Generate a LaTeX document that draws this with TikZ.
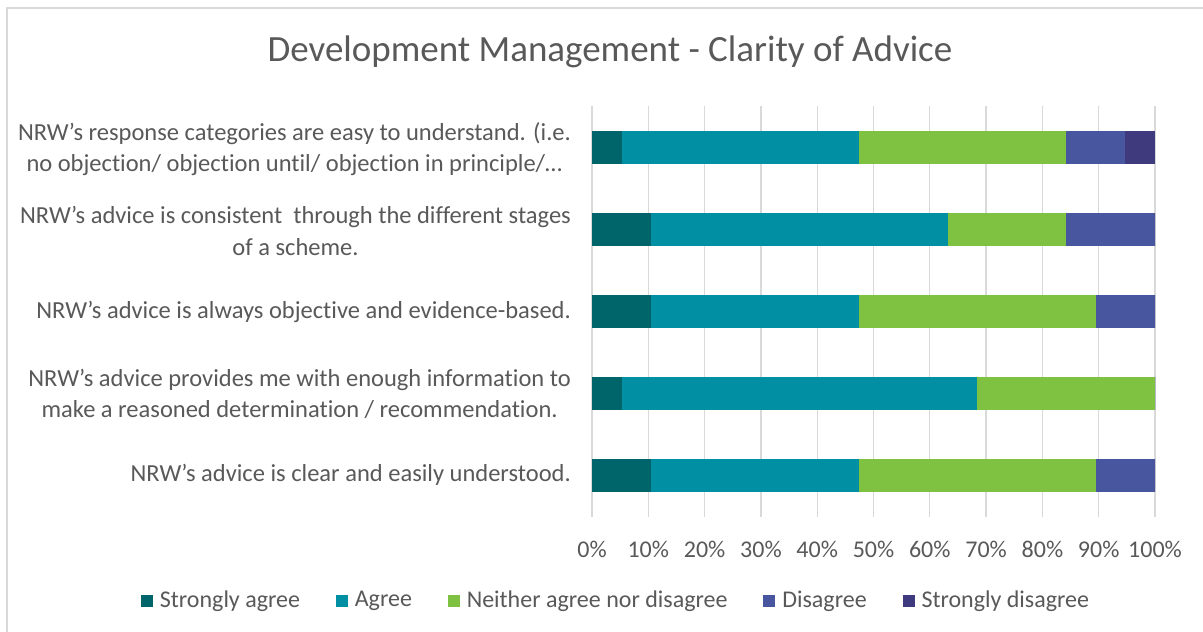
\documentclass[tikz,border=0pt]{standalone}
\usepackage{fontspec}
\setmainfont{Carlito}[Ligatures=NoCommon]
\usetikzlibrary{positioning}
\definecolor{txt}{HTML}{595959}
\definecolor{grid}{HTML}{D9D9D9}
\definecolor{frame}{HTML}{D9D9D9}
\definecolor{csa}{HTML}{00656B}
\definecolor{cag}{HTML}{008FA3}
\definecolor{cne}{HTML}{7FC241}
\definecolor{cdi}{HTML}{47569E}
\definecolor{csd}{HTML}{3F3A7E}
\tikzset{
  lab/.style={anchor=east, align=center, text=txt, inner sep=0pt, font=\fontsize{24.5}{31.5}\selectfont},
  tick/.style={anchor=center, text=txt, inner sep=0pt, font=\fontsize{24}{28}\selectfont},
  ttl/.style={anchor=center, text=txt, inner sep=0pt, font=\fontsize{37}{42}\selectfont},
  leg/.style={anchor=west, text=txt, inner sep=0pt, font=\fontsize{24}{28}\selectfont},
  sw/.style={minimum size=12pt, inner sep=0pt, draw=none, fill=#1},
  gl/.style={draw=grid, line width=1.3pt},
}
\begin{document}
\begin{tikzpicture}[x=1pt,y=-1pt]
\useasboundingbox (0,0) rectangle (1203,632);
\fill[white] (0,0) rectangle (1203,632);
\draw[frame, line width=1.5pt] (1210,8) -- (7,8) -- (7,640);
% title
\node[ttl] (title) at (610,52) {Development Management - Clarity of Advice};
% grid
\foreach \i/\t in {0/0\%,1/10\%,2/20\%,3/30\%,4/40\%,5/50\%,6/60\%,7/70\%,8/80\%,9/90\%,10/100\%} {
  \draw[gl] ({592+56.3*\i},106) -- ({592+56.3*\i},517);
  \node[tick] (t\i) at ({592+56.3*\i},549) {\t};
}
% bars
\newcommand{\mybar}[6]{%
  \fill[csa] (592,{#1-16.5}) rectangle ({592+563*#2},{#1+16.5});
  \fill[cag] ({592+563*#2},{#1-16.5}) rectangle ({592+563*#3},{#1+16.5});
  \fill[cne] ({592+563*#3},{#1-16.5}) rectangle ({592+563*#4},{#1+16.5});
  \fill[cdi] ({592+563*#4},{#1-16.5}) rectangle ({592+563*#5},{#1+16.5});
  \fill[csd] ({592+563*#5},{#1-16.5}) rectangle ({592+563*#6},{#1+16.5});
}
\mybar{147.5}{0.0526}{0.4737}{0.8421}{0.9474}{1}
\mybar{229.5}{0.1053}{0.6316}{0.8421}{1}{1}
\mybar{311.5}{0.1053}{0.4737}{0.8947}{1}{1}
\mybar{393}{0.0526}{0.6842}{1}{1}{1}
\mybar{475}{0.1053}{0.4737}{0.8947}{1}{1}
% labels
\node[lab] (q1) at (571,149) {NRW’s response categories are easy to understand. (i.e.\\no objection/ objection until/ objection in principle/…};
\node[lab] (q2) at (571,231) {NRW’s advice is consistent\ \ through the different stages\\of a scheme.};
\node[lab] (q3) at (571,312) {NRW’s advice is always objective and evidence-based.};
\node[lab] (q4) at (571,394) {NRW’s advice provides me with enough information to\\make a reasoned determination / recommendation.};
\node[lab] (q5) at (571,475) {NRW’s advice is clear and easily understood.};
% legend
\node[sw=csa] (s1) at (147,601) {};
\node[leg, right=6.5pt of s1.east, anchor=west] (l1) {Strongly agree};
\node[sw=cag, right=35.5pt of l1.east, anchor=west] (s2) {};
\node[leg, right=6.5pt of s2.east, anchor=west] (l2) {Agree};
\node[sw=cne, right=35.5pt of l2.east, anchor=west] (s3) {};
\node[leg, right=6.5pt of s3.east, anchor=west] (l3) {Neither agree nor disagree};
\node[sw=cdi, right=35.5pt of l3.east, anchor=west] (s4) {};
\node[leg, right=6.5pt of s4.east, anchor=west] (l4) {Disagree};
\node[sw=csd, right=35.5pt of l4.east, anchor=west] (s5) {};
\node[leg, right=6.5pt of s5.east, anchor=west] (l5) {Strongly disagree};
\end{tikzpicture}
\end{document}
